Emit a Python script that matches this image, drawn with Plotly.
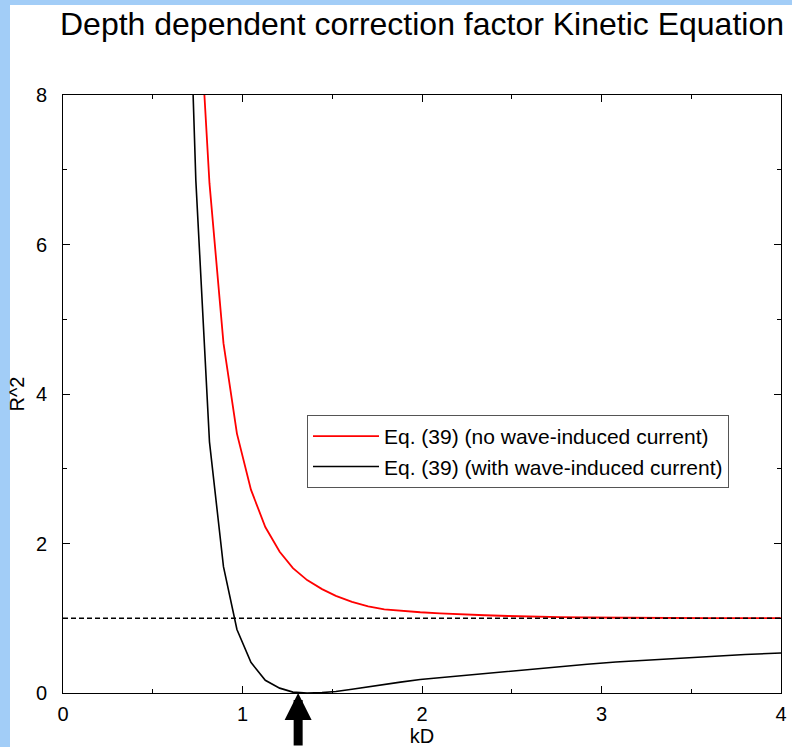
import plotly.graph_objects as go

# ---------------- data ----------------
kd = [0.664, 0.740, 0.816, 0.894, 0.969, 1.047, 1.127, 1.207, 1.281, 1.360,
      1.443, 1.520, 1.610, 1.700, 1.790, 1.880, 1.990, 2.100, 2.220, 2.350,
      2.480, 2.620, 2.770, 2.920, 3.080, 3.250, 3.420, 3.600, 3.800, 4.000]

r2_no_current = [14.5, 10.0, 6.82, 4.68, 3.47, 2.72, 2.22, 1.89, 1.67, 1.51,
                 1.39, 1.30, 1.22, 1.16, 1.12, 1.10, 1.08, 1.065, 1.05, 1.04,
                 1.03, 1.02, 1.015, 1.01, 1.006, 1.004, 1.003, 1.002, 1.001, 1.001]

r2_with_current = [12.6, 6.86, 3.36, 1.69, 0.85, 0.41, 0.17, 0.065, 0.012, 0.0,
                   0.006, 0.02, 0.05, 0.085, 0.115, 0.145, 0.18, 0.205, 0.235, 0.265,
                   0.295, 0.325, 0.355, 0.385, 0.415, 0.44, 0.465, 0.49, 0.515, 0.535]

reference_level = 1.0
arrow_kd = 1.31

x_ticks = [0, 1, 2, 3, 4]
y_ticks = [0, 2, 4, 6, 8]

series_names = ["Eq. (39) (no wave-induced current)",
                "Eq. (39) (with wave-induced current)"]

# ---------------- layout geometry ----------------
W, H = 792, 747
ML, MR, MT, MB = 63, 11, 95, 54
PW, PH = W - ML - MR, H - MT - MB

FONT = "Liberation Sans, Arial, sans-serif"

fig = go.Figure()
fig.add_trace(go.Scatter(x=kd, y=r2_no_current, mode="lines", name=series_names[0],
                         line=dict(color="#ff0000", width=1.8)))
fig.add_trace(go.Scatter(x=kd, y=r2_with_current, mode="lines", name=series_names[1],
                         line=dict(color="#000000", width=1.6)))
fig.add_trace(go.Scatter(x=[x_ticks[0], x_ticks[-1]], y=[reference_level, reference_level],
                         mode="lines", showlegend=False, hoverinfo="skip",
                         line=dict(color="#000000", width=1.5, dash="5px,3px")))

# white slide area (blue strip on left and top)
def px_to_paper_x(px):
    return (px - ML) / PW

def px_to_paper_y(py):
    return (H - MB - py) / PH

fig.add_shape(type="rect", xref="paper", yref="paper", layer="below",
              x0=px_to_paper_x(10), x1=px_to_paper_x(W + 5),
              y0=px_to_paper_y(H + 5), y1=px_to_paper_y(5),
              fillcolor="white", line=dict(width=0))

# arrow pointing at the minimum
fig.add_annotation(x=arrow_kd, y=0, xref="x", yref="y", text="",
                   showarrow=True, ax=0, ay=62, axref="pixel", ayref="pixel",
                   arrowhead=2, arrowsize=0.6, arrowwidth=9, arrowcolor="black",
                   standoff=0)

axis_common = dict(showgrid=False, zeroline=False, showline=True, linecolor="black",
                   linewidth=1, mirror="allticks", ticks="inside", ticklen=7,
                   tickcolor="black", tickwidth=1,
                   tickfont=dict(family=FONT, size=20, color="black"))

fig.update_xaxes(range=[0, 4], tickvals=x_ticks, ticklabelstandoff=3,
                 minor=dict(dtick=0.5, tick0=0, ticks="inside", ticklen=4,
                            tickcolor="black", showgrid=False),
                 title=dict(text="kD", font=dict(family=FONT, size=20, color="black"),
                            standoff=5),
                 **axis_common)
fig.update_yaxes(range=[0, 8], tickvals=y_ticks, ticklabelstandoff=11,
                 minor=dict(dtick=1, tick0=0, ticks="inside", ticklen=4,
                            tickcolor="black", showgrid=False),
                 title=dict(text="R^2", font=dict(family=FONT, size=20, color="black"),
                            standoff=5),
                 **axis_common)

fig.update_layout(
    width=W, height=H,
    margin=dict(l=ML, r=MR, t=MT, b=MB, autoexpand=False),
    paper_bgcolor="#a2cdf7", plot_bgcolor="white",
    title=dict(text="Depth dependent correction factor Kinetic Equation",
               font=dict(family=FONT, size=32, color="black"),
               x=0.5, xref="paper", xanchor="center",
               y=1 - 24 / H, yref="container", yanchor="middle"),
    legend=dict(x=px_to_paper_x(307), y=px_to_paper_y(415), xanchor="left", yanchor="top",
                bgcolor="white", bordercolor="#555555", borderwidth=1,
                font=dict(family=FONT, size=21, color="black"),
                itemwidth=66, tracegroupgap=0),
    showlegend=True,
)

fig.write_html("out.html")
